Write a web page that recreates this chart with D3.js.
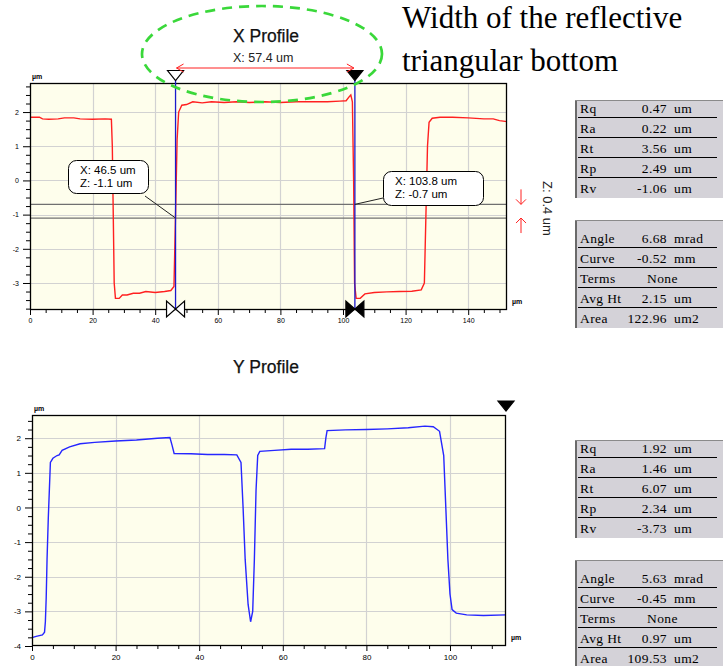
<!DOCTYPE html>
<html><head><meta charset="utf-8">
<script src="https://cdn.jsdelivr.net/npm/d3@7"></script>
<style>
body{margin:0;background:#fff;}
svg{display:block;}
text{font-family:"Liberation Sans",Arial,sans-serif;}
.serif{font-family:"Liberation Serif","Times New Roman",serif;}
</style></head>
<body><svg id="c" width="723" height="666"></svg>
<script>
// ---------- DATA ----------
const xProfileX = [0,3,4,6,9,11,14,16,20,24,26,26.3,26.6,26.9,27.3,28.5,29.5,31,33,35,37,40,43,45,46,46.5,47,47.5,48.5,50,52,55,58,62,66,70,75,80,85,90,95,99,101,102,102.5,103,103.4,103.7,104.2,105.5,107,110,114,118,122,125,126,126.5,127,127.5,128.5,131,135,140,145,148,150,152.4];
const xProfileZ = [1.85,1.85,1.80,1.79,1.80,1.83,1.83,1.80,1.79,1.80,1.79,1.0,-1.0,-3.0,-3.45,-3.45,-3.35,-3.35,-3.3,-3.3,-3.25,-3.28,-3.25,-3.22,-3.1,-1.0,1.2,2.0,2.2,2.22,2.3,2.27,2.3,2.28,2.3,2.28,2.3,2.28,2.3,2.3,2.3,2.32,2.33,2.45,2.5,2.3,0,-3.0,-3.45,-3.45,-3.32,-3.28,-3.26,-3.25,-3.24,-3.2,-3.0,-1.0,1.0,1.7,1.82,1.85,1.85,1.83,1.8,1.8,1.75,1.72];
const yProfileX = [0,1,2.5,3,3.2,3.4,3.6,3.9,4.15,4.4,5,6,6.5,7.2,9,11.5,15,20,25,30,33,33.5,34,38,42,46,49,50,50.5,51,51.7,52.3,52.8,53.2,53.6,54,54.5,58,62,66,70,70.3,70.6,75,80,85,90,94,96,97.5,98.5,99,99.5,100,100.5,101.5,104,108,113.4];
const yProfileZ = [-3.76,-3.72,-3.68,-3.6,-3.3,-2.6,-1.5,-0.3,0.5,1.3,1.42,1.5,1.52,1.65,1.75,1.84,1.88,1.92,1.95,2.0,2.02,1.8,1.56,1.55,1.53,1.53,1.52,1.3,0,-1.5,-2.8,-3.3,-3.0,-1.5,0.5,1.5,1.62,1.65,1.68,1.68,1.7,2.0,2.22,2.24,2.25,2.27,2.3,2.35,2.33,2.2,1.5,0,-1.5,-2.5,-2.95,-3.05,-3.1,-3.12,-3.1];

const xAxisTicksX = [0,20,40,60,80,100,120,140];
const zAxisTicksX = [-3,-2,-1,0,1,2];
const xAxisTicksY = [0,20,40,60,80,100];
const zAxisTicksY = [-4,-3,-2,-1,0,1,2];

const cursorX = [46.5, 103.8];
const cursorZ = [-1.1, -0.7];
const cursorLabelsX = ["X: 46.5 um", "X: 103.8 um"];
const cursorLabelsZ = ["Z: -1.1 um", "Z: -0.7 um"];
const widthLabel = "X: 57.4 um";
const heightLabel = "Z: 0.4 um";

const statLabels = ["Rq","Ra","Rt","Rp","Rv"];
const statUnits = ["um","um","um","um","um"];
const xStatValues = ["0.47","0.22","3.56","2.49","-1.06"];
const yStatValues = ["1.92","1.46","6.07","2.34","-3.73"];
const fitLabels = ["Angle","Curve","Terms","Avg Ht","Area"];
const fitUnits = ["mrad","mm","","um","um2"];
const xFitValues = ["6.68","-0.52","None","2.15","122.96"];
const yFitValues = ["5.63","-0.45","None","0.97","109.53"];

// ---------- DRAW ----------
const svg = d3.select("#c");

function panel(cfg){
  const g = svg.append("g");
  const x = d3.scaleLinear().domain(cfg.xDomain).range([cfg.left, cfg.right]);
  const y = d3.scaleLinear().domain(cfg.zDomain).range([cfg.bottom, cfg.top]);
  g.append("rect").attr("x",cfg.left).attr("y",cfg.top)
    .attr("width",cfg.right-cfg.left).attr("height",cfg.bottom-cfg.top)
    .attr("fill","#fefeec");
  g.selectAll(".hg").data(cfg.zTicks.filter(d=>d>cfg.zDomain[0]&&d<cfg.zDomain[1])).join("line")
    .attr("x1",cfg.left).attr("x2",cfg.right)
    .attr("y1",d=>Math.round(y(d))+0.5).attr("y2",d=>Math.round(y(d))+0.5)
    .attr("stroke","#d2d2d2").attr("stroke-width",1.2);
  g.selectAll(".vg").data(cfg.xTicks.filter(d=>d>cfg.xDomain[0]&&d<cfg.xDomain[1])).join("line")
    .attr("y1",cfg.top).attr("y2",cfg.bottom)
    .attr("x1",d=>Math.round(x(d))+0.5).attr("x2",d=>Math.round(x(d))+0.5)
    .attr("stroke","#d2d2d2").attr("stroke-width",1.2);
  cfg.x = x; cfg.y = y; cfg.g = g;
  if (cfg.before) cfg.before(cfg);
  const pts = cfg.xs.map((d,i)=>[d,cfg.zs[i]]);
  g.append("path").datum(pts)
    .attr("d", d3.line().x(d=>x(d[0])).y(d=>y(d[1])))
    .attr("fill","none").attr("stroke",cfg.color).attr("stroke-width",1.4);
  g.append("rect").attr("x",cfg.left+0.5).attr("y",cfg.top+0.5)
    .attr("width",cfg.right-cfg.left-1).attr("height",cfg.bottom-cfg.top-1)
    .attr("fill","none").attr("stroke","#000").attr("stroke-width",1.3);
  const fmt = d=>String(d);
  const zMinor = d3.range(Math.ceil(cfg.zDomain[0]*4)/4, cfg.zDomain[1], 0.25).filter(d=>Math.abs(d-Math.round(d))>1e-6);
  const xMinor = d3.range(0, cfg.xDomain[1], 5).filter(d=>d%20!==0);
  const ay = g.append("g").attr("transform",`translate(${cfg.left},0)`)
    .call(d3.axisLeft(y).tickValues(cfg.zTicks).tickSize(7).tickSizeOuter(0).tickPadding(4).tickFormat(fmt));
  ay.select(".domain").remove();
  ay.selectAll("text").attr("font-size",cfg.fs).attr("font-family","Liberation Sans, Arial").attr("fill","#000");
  g.append("g").attr("transform",`translate(${cfg.left},0)`)
    .call(d3.axisLeft(y).tickValues(zMinor).tickSize(4).tickSizeOuter(0).tickFormat(""))
    .select(".domain").remove();
  const ax = g.append("g").attr("transform",`translate(0,${cfg.bottom})`)
    .call(d3.axisBottom(x).tickValues(cfg.xTicks).tickSize(5).tickSizeOuter(0).tickPadding(3).tickFormat(fmt));
  ax.select(".domain").remove();
  ax.selectAll("text").attr("font-size",cfg.fs).attr("font-family","Liberation Sans, Arial").attr("fill","#000");
  g.append("g").attr("transform",`translate(0,${cfg.bottom})`)
    .call(d3.axisBottom(x).tickValues(xMinor).tickSize(3).tickSizeOuter(0).tickFormat(""))
    .select(".domain").remove();
  g.selectAll(".tick line").attr("stroke","#000");
  g.append("text").attr("x",cfg.left+2).attr("y",cfg.top-4).attr("font-size",7).attr("font-weight","bold").text("µm");
  g.append("text").attr("x",cfg.right+5).attr("y",cfg.bottom-6).attr("font-size",7).attr("font-weight","bold").text("µm");
  return cfg;
}

function downTri(g, cx, top, filled){
  g.append("path").attr("d",`M${cx-8},${top}L${cx+8},${top}L${cx},${top+10}Z`)
    .attr("fill",filled?"#000":"#fff").attr("stroke","#000").attr("stroke-width",1.2);
}
function bowtie(g, cx, cy, filled){
  g.append("path").attr("d",`M${cx-9},${cy-8}L${cx-9},${cy+8}L${cx},${cy}Z M${cx+9},${cy-8}L${cx+9},${cy+8}L${cx},${cy}Z`)
    .attr("fill",filled?"#000":"#fff").attr("stroke","#000").attr("stroke-width",1.2);
}

// X profile
const P1 = panel({
  left:30,right:507,top:83,bottom:310,
  xDomain:[0,152.4], zDomain:[-3.79,2.85],
  xTicks:xAxisTicksX, zTicks:zAxisTicksX,
  xs:xProfileX, zs:xProfileZ, color:"#ff2020", fs:7,
  before:(c)=>{
    c.g.selectAll(".cz").data(cursorZ).join("line")
      .attr("x1",c.left).attr("x2",c.right)
      .attr("y1",d=>c.y(d)).attr("y2",d=>c.y(d))
      .attr("stroke","#707070").attr("stroke-width",1.2);
  }
});
cursorX.forEach((cx,i)=>{
  const px = P1.x(cx);
  svg.append("line").attr("x1",px).attr("x2",px).attr("y1",80).attr("y2",P1.bottom)
    .attr("stroke","#1a1acc").attr("stroke-width",1.3);
  downTri(svg, px, 70.5, i===1);
  bowtie(svg, px, 309, i===1);
});
{
  const a = P1.x(cursorX[0])+1, b = P1.x(cursorX[1])-1, yy = 68;
  svg.append("path").attr("d",`M${a},${yy}L${b},${yy}M${a+7},${yy-4}L${a},${yy}L${a+7},${yy+4}M${b-7},${yy-4}L${b},${yy}L${b-7},${yy+4}`)
    .attr("fill","none").attr("stroke","#ff2020").attr("stroke-width",1);
  svg.append("text").attr("x",(a+b)/2-2).attr("y",62).attr("text-anchor","middle").attr("font-size",12.5).attr("fill","#222").text(widthLabel);
}
svg.append("text").attr("x",266).attr("y",42).attr("text-anchor","middle").attr("font-size",17.5).attr("fill","#111").attr("stroke","#111").attr("stroke-width",0.25).text("X Profile");

const boxes = [{x:68,y:160,w:80,h:33,px:145,py:196},{x:383,y:171,w:100,h:34,px:383,py:198}];
boxes.forEach((b,i)=>{
  const tx = P1.x(cursorX[i]), ty = P1.y(cursorZ[i]);
  svg.append("line").attr("x1",b.px).attr("y1",b.py).attr("x2",tx).attr("y2",ty)
    .attr("stroke","#222").attr("stroke-width",1);
  svg.append("rect").attr("x",b.x+0.5).attr("y",b.y+0.5).attr("width",b.w).attr("height",b.h).attr("rx",8)
    .attr("fill","#fff").attr("stroke","#000").attr("stroke-width",1);
  svg.append("text").attr("x",b.x+12).attr("y",b.y+14).attr("font-size",11.5).text(cursorLabelsX[i]);
  svg.append("text").attr("x",b.x+12).attr("y",b.y+27).attr("font-size",11.5).text(cursorLabelsZ[i]);
});

{
  const ya = P1.y(cursorZ[1]), yb = P1.y(cursorZ[0]), ax = 521;
  svg.append("path").attr("d",`M${ax},${ya-15}L${ax},${ya}M${ax-5},${ya-5}L${ax},${ya}L${ax+5},${ya-5}M${ax},${yb+15}L${ax},${yb}M${ax-5},${yb+5}L${ax},${yb}L${ax+5},${yb+5}`)
    .attr("fill","none").attr("stroke","#ff2020").attr("stroke-width",1);
  svg.append("text").attr("transform","translate(543,181) rotate(90)").attr("font-size",13).attr("fill","#222").text(heightLabel);
}

// Y profile
const P2 = panel({
  left:32,right:506,top:415,bottom:646,
  xDomain:[0,113.4], zDomain:[-4,2.67],
  xTicks:xAxisTicksY, zTicks:zAxisTicksY,
  xs:yProfileX, zs:yProfileZ, color:"#2626ff", fs:8
});
downTri(svg, 506, 401, true);
svg.append("text").attr("x",266).attr("y",373).attr("text-anchor","middle").attr("font-size",17.5).attr("fill","#111").attr("stroke","#111").attr("stroke-width",0.25).text("Y Profile");

svg.append("text").attr("class","serif").attr("x",402).attr("y",28).attr("font-size",31).attr("fill","#000").text("Width of the reflective");
svg.append("text").attr("class","serif").attr("x",402).attr("y",71).attr("font-size",31).attr("fill","#000").text("triangular bottom");

function table(top, bottom, firstBase, labels, values, units){
  const g = svg.append("g");
  g.append("rect").attr("x",575).attr("y",top).attr("width",148).attr("height",bottom-top).attr("fill","#d4d2d8");
  g.append("line").attr("x1",576).attr("x2",576).attr("y1",top).attr("y2",bottom).attr("stroke","#6a6a6a").attr("stroke-width",2);
  g.append("line").attr("x1",575).attr("x2",723).attr("y1",top+0.5).attr("y2",top+0.5).attr("stroke","#8a8a8a").attr("stroke-width",1);
  labels.forEach((l,i)=>{
    const yb = firstBase + i*20;
    const t = (xx, s, anchor)=>g.append("text").attr("class","serif").attr("x",xx).attr("y",yb)
      .attr("font-size",13.5).attr("letter-spacing",0.4).attr("text-anchor",anchor).text(s);
    t(580, l, "start");
    if (units[i]) { t(667, values[i], "end"); t(674, units[i], "start"); }
    else t(647, values[i], "start");
    if (i < labels.length-1)
      g.append("line").attr("x1",578).attr("x2",717).attr("y1",yb+4.5).attr("y2",yb+4.5).attr("stroke","#000").attr("stroke-width",1);
  });
}
table(100,198,113,statLabels,xStatValues,statUnits);
table(220,328,243,fitLabels,xFitValues,fitUnits);
table(440,538,453,statLabels,yStatValues,statUnits);
table(560,666,583,fitLabels,yFitValues,fitUnits);

svg.append("ellipse").attr("cx",262).attr("cy",54).attr("rx",120).attr("ry",48)
  .attr("fill","none").attr("stroke","#3ad83a").attr("stroke-width",2.7).attr("stroke-dasharray","10,7");
</script>
</body></html>
